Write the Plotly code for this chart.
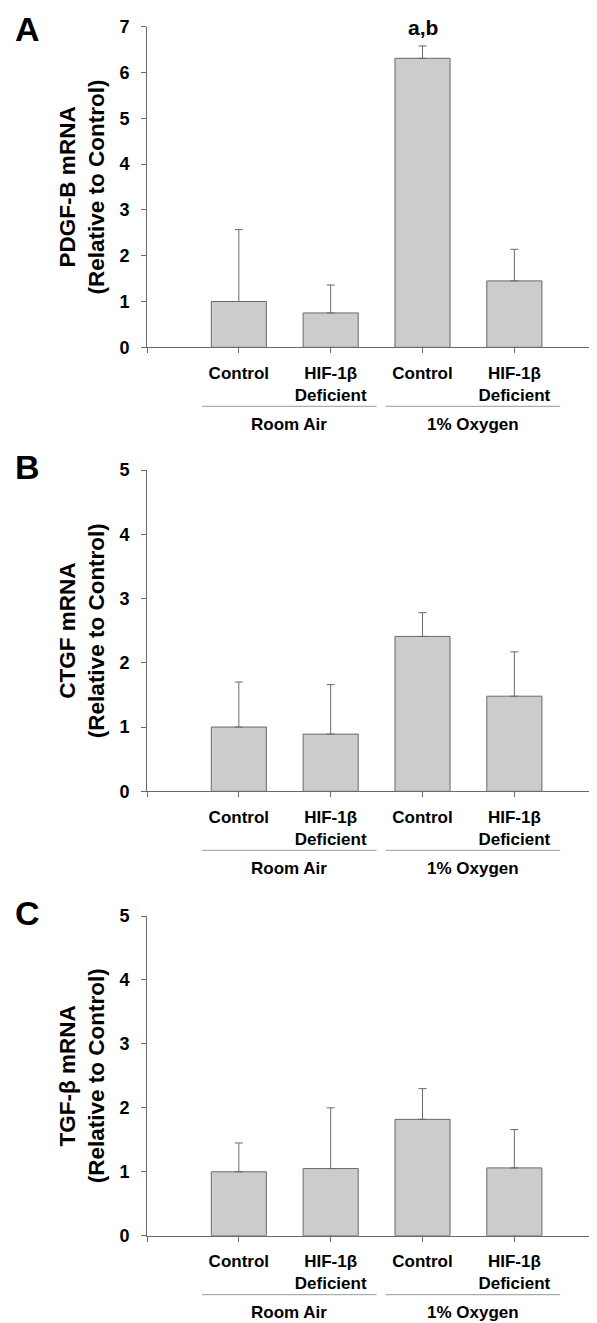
import plotly.graph_objects as go

categories = ["Control", "HIF-1β<br>Deficient", "Control", "HIF-1β<br>Deficient"]
groups = ["Room Air", "1% Oxygen"]

pdgf_mean = [1.00, 0.75, 6.31, 1.45]
pdgf_err = [1.57, 0.61, 0.27, 0.69]

ctgf_mean = [1.00, 0.89, 2.41, 1.48]
ctgf_err = [0.70, 0.77, 0.37, 0.69]

tgfb_mean = [1.00, 1.05, 1.82, 1.06]
tgfb_err = [0.45, 0.95, 0.48, 0.60]

panels = [
    dict(letter="A", title="PDGF-B mRNA<br>(Relative to Control)", mean=pdgf_mean, err=pdgf_err, ymax=7),
    dict(letter="B", title="CTGF mRNA<br>(Relative to Control)", mean=ctgf_mean, err=ctgf_err, ymax=5),
    dict(letter="C", title="TGF-β mRNA<br>(Relative to Control)", mean=tgfb_mean, err=tgfb_err, ymax=5),
]

# page body has an 8px margin; the figure is sized to fill the rest of the window
OFF = 8
W, H = 597 - OFF, 1323 - OFF
# pixel positions in the window (top of axis, zero line) of each panel
panel_px = [(26.7, 347.3), (470.0, 791.3), (916.0, 1235.7)]
x_left_px = 147 - OFF

FONT = "Liberation Sans, Arial, sans-serif"
GREY = "#6a6a6a"

fig = go.Figure()
layout = dict(
    template="none",
    width=W, height=H,
    margin=dict(l=0, r=0, t=0, b=0, autoexpand=False),
    paper_bgcolor="white", plot_bgcolor="white",
    showlegend=False,
    font=dict(family=FONT, color="black"),
    shapes=[], annotations=[],
    bargap=0.4,
)

xpos = [1, 2, 3, 4]

for i, p in enumerate(panels):
    n = "" if i == 0 else str(i + 1)
    xa, ya = "x" + n, "y" + n
    top, zero = panel_px[i]
    top -= OFF
    zero -= OFF
    fig.add_trace(go.Bar(
        x=xpos, y=p["mean"], xaxis=xa, yaxis=ya, width=0.6,
        marker=dict(color="#cccccc", line=dict(color=GREY, width=1)),
        error_y=dict(type="data", array=p["err"], arrayminus=[0] * 4, symmetric=False,
                     color=GREY, thickness=1, width=4),
        hoverinfo="skip",
    ))
    layout["xaxis" + n] = dict(
        domain=[x_left_px / W, 1], range=[0, 4.9], anchor=ya, automargin=False,
        showline=True, linecolor=GREY, linewidth=1, showgrid=False, zeroline=False,
        tickmode="array", tickvals=[0] + xpos, ticktext=[""] + [f"<b>{c}</b>" for c in categories],
        ticks="outside", ticklen=5, tickcolor=GREY, ticklabelstandoff=5,
        tickfont=dict(size=17, family=FONT, color="black"),
    )
    layout["yaxis" + n] = dict(
        domain=[1 - zero / H, 1 - top / H], range=[0, p["ymax"]], anchor=xa, automargin=False,
        showline=True, linecolor=GREY, linewidth=1, showgrid=False, zeroline=False,
        tickmode="array", tickvals=list(range(p["ymax"] + 1)),
        ticktext=[f"<b>{v}</b>" for v in range(p["ymax"] + 1)],
        ticks="outside", ticklen=5, tickcolor=GREY, ticklabelstandoff=8,
        tickfont=dict(size=18, family=FONT, color="black"),
        title=dict(text=f"<b>{p['title']}</b>", font=dict(size=22.5, family=FONT, color="black"), standoff=8),
    )
    # group lines and labels
    line_y = 1 - (zero + 59) / H
    lab_y = 1 - (zero + 77) / H
    for g, name in enumerate(groups):
        c = 1.55 + 2 * g
        layout["shapes"].append(dict(type="line", xref=xa, yref="paper",
                                     x0=c - 0.95, x1=c + 0.95, y0=line_y, y1=line_y,
                                     line=dict(color="#999999", width=1)))
        layout["annotations"].append(dict(text=f"<b>{name}</b>", xref=xa, yref="paper",
                                          x=c, y=lab_y, showarrow=False,
                                          font=dict(size=17, family=FONT, color="black"),
                                          xanchor="center", yanchor="middle"))
    # panel letter (kept inside the figure's top edge)
    ly = min(1.0, 1 - (top - 2 - 22) / H)
    layout["annotations"].append(dict(text=f"<b>{p['letter']}</b>", xref="paper", yref="paper",
                                      x=(27 - OFF) / W, y=ly, showarrow=False,
                                      font=dict(size=34, family=FONT, color="black"),
                                      xanchor="center", yanchor="top"))

# significance label on panel A
layout["annotations"].append(dict(text="<b>a,b</b>", xref="x", yref="y",
                                  x=xpos[2], y=pdgf_mean[2] + pdgf_err[2], yshift=18,
                                  showarrow=False, font=dict(size=21, family=FONT, color="black"),
                                  xanchor="center", yanchor="middle"))

fig.update_layout(**layout)
fig.write_html("out.html")
